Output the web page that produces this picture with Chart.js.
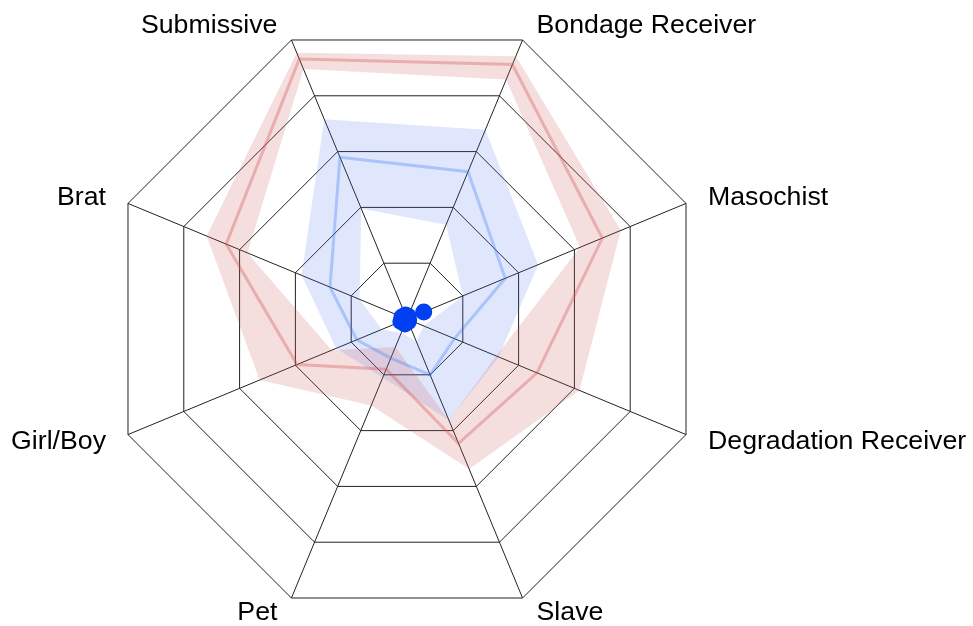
<!DOCTYPE html>
<html>
<head>
<meta charset="utf-8">
<script src="https://cdn.jsdelivr.net/npm/chart.js@4"></script>
<style>
  html, body { margin: 0; padding: 0; background: #fff; }
  #wrap { width: 973px; height: 626px; position: relative; }
</style>
</head>
<body>
<div id="wrap"><canvas id="chart"></canvas></div>
<script>
const labels = ['Submissive', 'Bondage Receiver', 'Masochist', 'Degradation Receiver', 'Slave', 'Pet', 'Girl/Boy', 'Brat'];

// red profile: middle line and band edges
const redMean = [4.66, 4.56, 3.50, 2.33, 2.23, 0.90, 1.97, 3.24];
const redHigh = [4.77, 4.71, 3.83, 3.09, 2.69, 1.55, 2.64, 3.59];
const redLow  = [4.48, 4.29, 3.10, 1.60, 1.82, 0.50, 1.35, 2.86];

// blue profile: middle line and band edges
const blueMean = [2.90, 2.64, 1.76, 0.85, 1.00, 0.70, 0.90, 1.38];
const blueHigh = [3.58, 3.39, 2.35, 1.64, 1.82, 1.05, 1.27, 1.89];
const blueLow  = [1.98, 1.69, 1.00, 0.30, 0.40, 0.25, 0.45, 0.85];

// solid blue markers near the centre
const dots = [0.07, 0.05, 0.3, 0.03, 0.05, 0.09, 0.11, 0.09];

const band = (data, color, fill) => ({
  data, fill,
  backgroundColor: color,
  borderColor: 'transparent',
  borderWidth: 0,
  pointRadius: 0,
});

const line = (data, color) => ({
  data, fill: false,
  borderColor: color,
  borderWidth: 3,
  pointRadius: 0,
});

// labels placed next to each outer vertex, as in the reference
const pointLabels = {
  id: 'pointLabels',
  afterDraw(chart) {
    const scale = chart.scales.r;
    const ctx = chart.ctx;
    ctx.save();
    ctx.font = '26.7px "Liberation Sans", Arial, sans-serif';
    ctx.fillStyle = '#000';
    ctx.textBaseline = 'alphabetic';
    labels.forEach((text, i) => {
      const p = scale.getPointPosition(i, scale.drawingArea);
      const ux = (p.x - scale.xCenter) / scale.drawingArea;
      const uy = (p.y - scale.yCenter) / scale.drawingArea;
      const steep = Math.abs(uy) > 0.9;
      const gap = steep ? 14 : 22;
      let dy;
      if (uy < -0.9) dy = -7;
      else if (uy < 0) dy = 2;
      else if (uy < 0.9) dy = 14;
      else dy = 22;
      ctx.textAlign = ux < 0 ? 'right' : 'left';
      ctx.fillText(text, p.x + (ux < 0 ? -gap : gap), p.y + dy);
    });
    ctx.restore();
  }
};

new Chart(document.getElementById('chart'), {
  type: 'radar',
  data: {
    labels,
    datasets: [
      {
        data: dots, fill: false,
        showLine: false,
        backgroundColor: '#0040f0',
        borderColor: '#0040f0',
        pointRadius: 8.5,
        pointBorderWidth: 0,
      },
      line(redMean, 'rgba(215,85,85,0.36)'),
      line(blueMean, 'rgba(60,120,250,0.32)'),
      band(redHigh, 'rgba(200,90,90,0.2)', '+1'),
      band(redLow, 'transparent', false),
      band(blueHigh, 'rgba(70,110,240,0.17)', '+1'),
      band(blueLow, 'transparent', false),
    ]
  },
  options: {
    responsive: true,
    maintainAspectRatio: false,
    animation: false,
    layout: { padding: { top: 17, bottom: 5, left: 0, right: 159 } },
    elements: { line: { tension: 0 } },
    plugins: {
      legend: { display: false },
      tooltip: { enabled: false },
    },
    scales: {
      r: {
        min: 0,
        max: 5,
        startAngle: -22.5,
        ticks: { display: false, stepSize: 1 },
        grid: { color: '#222', lineWidth: 1 },
        angleLines: { color: '#222', lineWidth: 1 },
        pointLabels: { display: false },
      }
    }
  },
  plugins: [pointLabels]
});
</script>
</body>
</html>
